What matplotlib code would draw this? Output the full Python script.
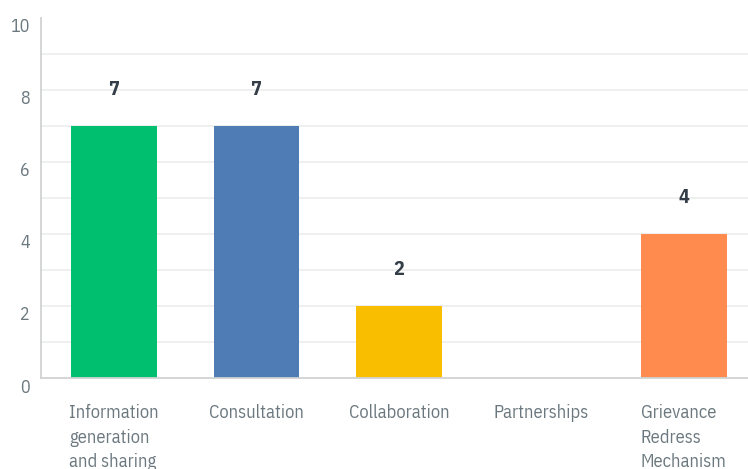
import matplotlib
matplotlib.use("Agg")
import matplotlib.pyplot as plt
from matplotlib import font_manager
from matplotlib.transforms import ScaledTranslation

categories = ["Information\ngeneration\nand sharing", "Consultation", "Collaboration",
              "Partnerships", "Grievance\nRedress\nMechanism"]
values = [7, 7, 2, 0, 4]
colors = ["#00BF6F", "#507CB6", "#F9BE00", "#FF8B4F", "#FF8B4F"]
y_ticks = [0, 2, 4, 6, 8, 10]
grid_levels = [1, 2, 3, 4, 5, 6, 7, 8, 9]

available = {f.name for f in font_manager.fontManager.ttflist}
family = "DejaVu Sans"
for cand in ["IBM Plex Sans Condensed", "Roboto Condensed", "Liberation Sans Narrow",
             "DejaVu Sans Condensed", "Roboto"]:
    if cand in available:
        family = cand
        break
plt.rcParams["font.family"] = [family, "DejaVu Sans"]

fig = plt.figure(figsize=(7.48, 4.69), dpi=100)
ax = fig.add_axes([41 / 748, 91 / 469, 707 / 748, 360 / 469])

for lvl in grid_levels:
    ax.axhline(lvl, color="#EDEEEE", lw=1.3, zorder=0)

x = list(range(len(categories)))
ax.bar(x, values, width=0.6, color=colors, zorder=2)

for xi, v in zip(x, values):
    if v > 0:
        ax.annotate(str(v), (xi, v), xytext=(0, 26.3), textcoords="offset points",
                    ha="center", va="center", fontsize=14.5, fontweight="bold",
                    color="#333E48")

for xi, lab in zip(x, categories):
    ax.text(xi, -0.73, lab, ha="center", va="top", multialignment="left",
            fontsize=13.3, color="#6B787F", linespacing=1.45, transform=ax.transData)

ax.set_xlim(-0.512, 4.45)
ax.set_ylim(0, 10)
ax.set_xticks([])
ax.set_yticks(y_ticks)
ax.tick_params(axis="y", length=0, pad=8, labelsize=13, labelcolor="#6B787F")
offset = ScaledTranslation(0, -7.5 / 100, fig.dpi_scale_trans)
for lbl in ax.get_yticklabels():
    lbl.set_transform(lbl.get_transform() + offset)

for side in ["top", "right"]:
    ax.spines[side].set_visible(False)
for side in ["left", "bottom"]:
    ax.spines[side].set_color("#D0D2D3")
    ax.spines[side].set_linewidth(1.3)

fig.savefig("out.png", dpi=100)
